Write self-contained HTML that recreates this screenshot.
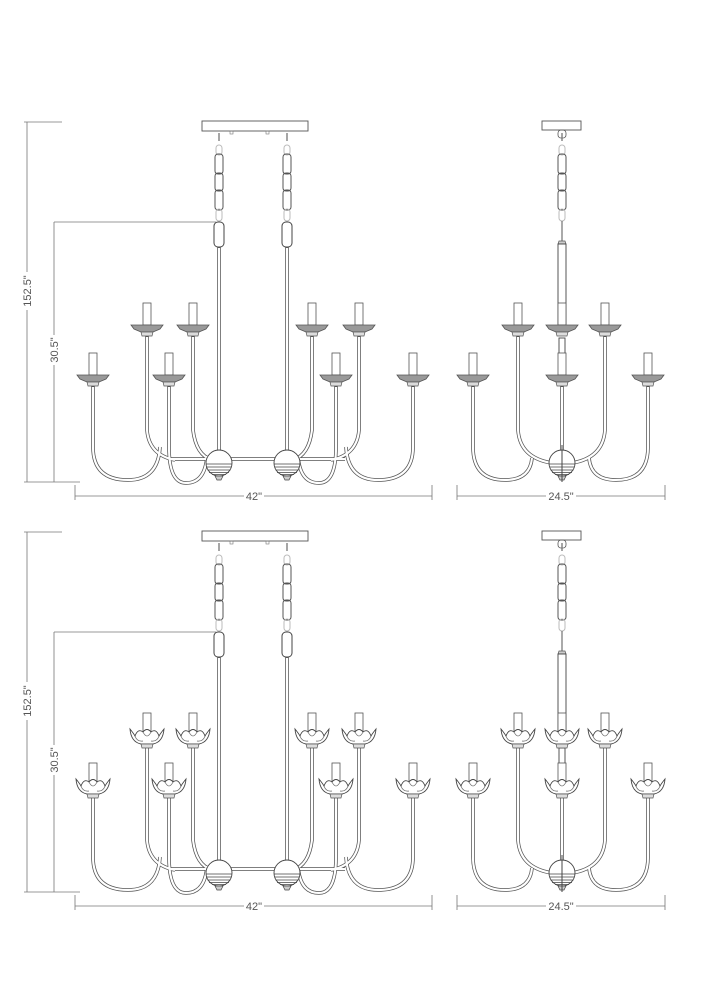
<!DOCTYPE html>
<html><head><meta charset="utf-8">
<style>
html,body{margin:0;padding:0;background:#fff;width:707px;height:1000px;overflow:hidden}
svg{display:block}
text{font-family:"Liberation Sans",sans-serif;font-size:11px;fill:#555}
</style></head><body>
<svg width="707" height="1000" viewBox="0 0 707 1000" xmlns="http://www.w3.org/2000/svg">
<defs>
  <g id="cupA">
    <rect x="-4" y="-25" width="8" height="22" fill="#fff" stroke="#555" stroke-width="0.8"/>
    <path d="M-16 -3 L16 -3 L13 1 L6 4 L-6 4 L-13 1 Z" fill="#999" stroke="#555" stroke-width="0.8"/>
    <path d="M-6 4 L6 4 L5 8 L-5 8 Z" fill="#ddd" stroke="#555" stroke-width="0.7"/>
  </g>
  <g id="cupB">
    <rect x="-4" y="-25" width="8" height="18" fill="#fff" stroke="#555" stroke-width="0.8"/>
    <path d="M-17 -9 Q-16 4 -6 6 L6 6 Q16 4 17 -9 Q13 -4 12 -2 Q9 -10 4 -6 Q0 -11 -4 -6 Q-9 -10 -12 -2 Q-13 -4 -17 -9 Z" fill="#fff" stroke="#444" stroke-width="0.9"/>
    <path d="M-12 -2 Q-10 4 -4 3 M12 -2 Q10 4 4 3 M-4 -6 Q0 2 4 -6" fill="none" stroke="#666" stroke-width="0.7"/>
    <path d="M-6 6 L6 6 L5 10 L-5 10 Z" fill="#ddd" stroke="#555" stroke-width="0.7"/>
  </g>
  <g id="ball">
    <circle cx="0" cy="0" r="13" fill="#fff" stroke="#444" stroke-width="0.9"/>
    <path d="M-13 1 L13 1 M-12.5 4 L12.5 4 M-11.5 7 L11.5 7 M-10 9.5 L10 9.5 M-7 11.5 L7 11.5" stroke="#444" stroke-width="0.7"/>
    <path d="M-4 13 L4 13 L2 17 L-2 17 Z" fill="#ccc" stroke="#444" stroke-width="0.7"/>
  </g>
  <g id="chain">
    <path d="M0 12 L0 20" stroke="#777" stroke-width="1.3"/>
    <rect x="-3" y="24" width="6" height="10" rx="3" fill="none" stroke="#bbb" stroke-width="1"/>
    <rect x="-4" y="33" width="8" height="20" rx="3" fill="none" stroke="#555" stroke-width="1"/>
    <rect x="-4" y="52" width="8" height="18" rx="3" fill="none" stroke="#555" stroke-width="1"/>
    <rect x="-4" y="69" width="8" height="20" rx="3" fill="none" stroke="#555" stroke-width="1"/>
    <rect x="-3" y="88" width="6" height="12" rx="3" fill="none" stroke="#bbb" stroke-width="1"/>
  </g>
  <g id="wideFrame" fill="none">
    <rect x="202" y="121" width="106" height="10" fill="#fff" stroke="#555" stroke-width="0.9"/>
    <rect x="230" y="131" width="3" height="3" fill="none" stroke="#777" stroke-width="0.6"/>
    <rect x="266" y="131" width="3" height="3" fill="none" stroke="#777" stroke-width="0.6"/>
    <use href="#chain" x="219" y="121"/>
    <use href="#chain" x="287" y="121"/>
    <rect x="214" y="222" width="10" height="25" rx="4" stroke="#444" stroke-width="1"/>
    <rect x="282" y="222" width="10" height="25" rx="4" stroke="#444" stroke-width="1"/>
    <g stroke="#555" stroke-width="3.6">
      <path d="M219 247 L219 450 M287 247 L287 450"/>
      <path d="M170 459 L345 459"/>
      <path d="M93 386 L93 447 Q93 480 128 480 Q158 480 160 447"/>
      <path d="M169 386 L169 447 Q169 483 186 483 Q205 483 207 456"/>
      <path d="M147 336 L147 430 Q149 455 175 460"/>
      <path d="M193 336 L193 430 Q196 455 212 460"/>
      <path d="M413 386 L413 447 Q413 480 378 480 Q348 480 346 447"/>
      <path d="M336 386 L336 447 Q336 483 319 483 Q300 483 298 456"/>
      <path d="M359 336 L359 430 Q357 455 331 460"/>
      <path d="M312 336 L312 430 Q309 455 293 460"/>
    </g>
    <g stroke="#fff" stroke-width="2.1">
      <path d="M219 248 L219 450 M287 248 L287 450"/>
      <path d="M170 459 L345 459"/>
      <path d="M93 387 L93 447 Q93 480 128 480 Q158 480 160 447"/>
      <path d="M169 387 L169 447 Q169 483 186 483 Q205 483 207 456"/>
      <path d="M147 337 L147 430 Q149 455 175 460"/>
      <path d="M193 337 L193 430 Q196 455 212 460"/>
      <path d="M413 387 L413 447 Q413 480 378 480 Q348 480 346 447"/>
      <path d="M336 387 L336 447 Q336 483 319 483 Q300 483 298 456"/>
      <path d="M359 337 L359 430 Q357 455 331 460"/>
      <path d="M312 337 L312 430 Q309 455 293 460"/>
    </g>
    <use href="#ball" x="219" y="463"/>
    <use href="#ball" x="287" y="463"/>
  </g>
  <g id="narrowFrame" fill="none">
    <rect x="542" y="121" width="39" height="9" fill="#fff" stroke="#555" stroke-width="0.9"/>
    <rect x="558" y="130" width="8" height="8" rx="3" stroke="#555" stroke-width="0.8"/>
    <use href="#chain" x="562" y="121"/>
    <path d="M562 221 L562 241" stroke="#555" stroke-width="1"/>
    <path d="M559 241 L565 241 L566 244 L558 244 Z" fill="#ccc" stroke="#555" stroke-width="0.7"/>
    <rect x="558" y="244" width="8" height="80" fill="#fff" stroke="#444" stroke-width="0.9"/>
    <rect x="559" y="338" width="6" height="20" fill="#fff" stroke="#444" stroke-width="0.9"/>
    <g stroke="#555" stroke-width="3.6">
      <path d="M562 386 L562 470"/>
      <path d="M473 386 L473 447 Q473 480 505 480 Q530 480 532 458"/>
      <path d="M518 336 L518 430 Q520 458 552 463"/>
      <path d="M648 386 L648 447 Q648 480 616 480 Q591 480 589 458"/>
      <path d="M605 336 L605 430 Q603 458 572 463"/>
    </g>
    <g stroke="#fff" stroke-width="2.1">
      <path d="M562 387 L562 470"/>
      <path d="M473 387 L473 447 Q473 480 505 480 Q530 480 532 458"/>
      <path d="M518 337 L518 430 Q520 458 552 463"/>
      <path d="M648 387 L648 447 Q648 480 616 480 Q591 480 589 458"/>
      <path d="M605 337 L605 430 Q603 458 572 463"/>
    </g>
    <use href="#ball" x="562" y="463"/>
    <path d="M562 445 L562 482" stroke="#444" stroke-width="1"/>
  </g>
  <g id="dims" fill="none" stroke="#777" stroke-width="0.8">
    <path d="M27 122 L27 482 M24 122 L62 122 M24 482 L80 482"/>
    <path d="M54 222 L54 482 M54 222 L216 222"/>
    <path d="M75 485 L75 500 M432 485 L432 500 M75 496 L432 496"/>
    <path d="M457 485 L457 500 M665 485 L665 500 M457 496 L665 496"/>
  </g>
</defs>

<use href="#wideFrame"/>
<use href="#cupA" x="147" y="328"/><use href="#cupA" x="193" y="328"/>
<use href="#cupA" x="312" y="328"/><use href="#cupA" x="359" y="328"/>
<use href="#cupA" x="93" y="378"/><use href="#cupA" x="169" y="378"/>
<use href="#cupA" x="336" y="378"/><use href="#cupA" x="413" y="378"/>
<use href="#narrowFrame"/>
<use href="#cupA" x="518" y="328"/><use href="#cupA" x="562" y="328"/><use href="#cupA" x="605" y="328"/>
<use href="#cupA" x="473" y="378"/><use href="#cupA" x="562" y="378"/><use href="#cupA" x="648" y="378"/>
<use href="#dims"/>
<rect x="244" y="489" width="20" height="12" fill="#fff"/>
<text x="254" y="500" text-anchor="middle">42"</text>
<rect x="546" y="489" width="30" height="12" fill="#fff"/>
<text x="561" y="500" text-anchor="middle">24.5"</text>
<rect x="21" y="272" width="12" height="38" fill="#fff"/>
<text transform="translate(31,291) rotate(-90)" text-anchor="middle">152.5"</text>
<rect x="48" y="335" width="12" height="30" fill="#fff"/>
<text transform="translate(58,350) rotate(-90)" text-anchor="middle">30.5"</text>

<g transform="translate(0,410)">
<use href="#wideFrame"/>
<use href="#cupB" x="147" y="328"/><use href="#cupB" x="193" y="328"/>
<use href="#cupB" x="312" y="328"/><use href="#cupB" x="359" y="328"/>
<use href="#cupB" x="93" y="378"/><use href="#cupB" x="169" y="378"/>
<use href="#cupB" x="336" y="378"/><use href="#cupB" x="413" y="378"/>
<use href="#narrowFrame"/>
<use href="#cupB" x="518" y="328"/><use href="#cupB" x="562" y="328"/><use href="#cupB" x="605" y="328"/>
<use href="#cupB" x="473" y="378"/><use href="#cupB" x="562" y="378"/><use href="#cupB" x="648" y="378"/>
<use href="#dims"/>
<rect x="244" y="489" width="20" height="12" fill="#fff"/>
<text x="254" y="500" text-anchor="middle">42"</text>
<rect x="546" y="489" width="30" height="12" fill="#fff"/>
<text x="561" y="500" text-anchor="middle">24.5"</text>
<rect x="21" y="272" width="12" height="38" fill="#fff"/>
<text transform="translate(31,291) rotate(-90)" text-anchor="middle">152.5"</text>
<rect x="48" y="335" width="12" height="30" fill="#fff"/>
<text transform="translate(58,350) rotate(-90)" text-anchor="middle">30.5"</text>
</g>
</svg>
</body></html>
